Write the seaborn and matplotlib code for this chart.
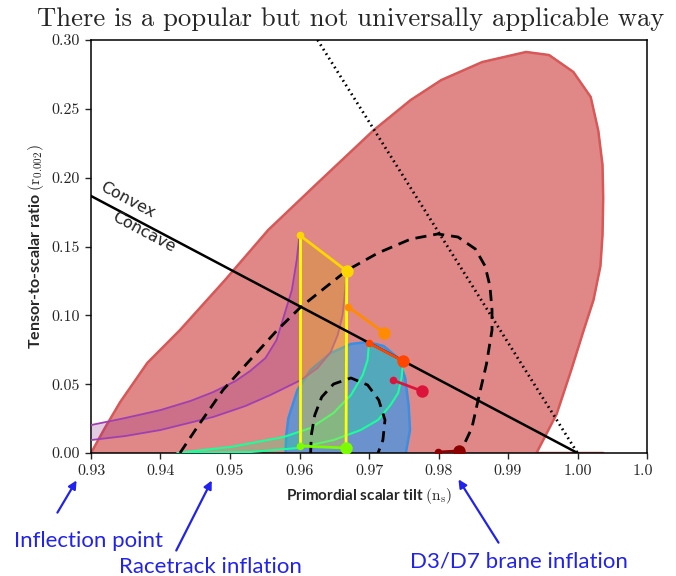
import numpy as np
import pandas as pd
import matplotlib
matplotlib.use("Agg")
import matplotlib.pyplot as plt
from matplotlib.patches import Rectangle
import seaborn as sns

# ---- data ----
# big (red) likelihood contour
red_ns = [0.9300, 0.9320, 0.9342, 0.9381, 0.9428, 0.9493, 0.9555, 0.9626, 0.9707, 0.9760,
          0.9804, 0.9863, 0.9926, 0.9959, 0.9994, 1.0019, 1.0030, 1.0036, 1.0037, 1.0036,
          1.0033, 1.0023, 1.0009, 0.9991, 0.9970, 0.9941, 1.0037]
red_r = [0.0000, 0.0182, 0.0370, 0.0654, 0.0893, 0.1257, 0.1620, 0.1961, 0.2346, 0.2564,
         0.2709, 0.2840, 0.2913, 0.2891, 0.2768, 0.2586, 0.2339, 0.2092, 0.1852, 0.1584,
         0.1358, 0.1111, 0.0893, 0.0603, 0.0283, 0.0000, 0.0000]

# blue contour
blue_ns = [0.9580, 0.9581, 0.9584, 0.9597, 0.9616, 0.9645, 0.9674, 0.9698, 0.9721, 0.9742,
           0.9752, 0.9757, 0.9759, 0.9753]
blue_r = [0.0000, 0.0131, 0.0254, 0.0458, 0.0603, 0.0726, 0.0792, 0.0806, 0.0777, 0.0690,
          0.0545, 0.0349, 0.0167, 0.0000]

# dashed contours
dash_big_ns = [0.9428, 0.9453, 0.9490, 0.9525, 0.9568, 0.9602, 0.9638, 0.9669, 0.9713, 0.9760,
               0.9799, 0.9828, 0.9853, 0.9867, 0.9874, 0.9877, 0.9877, 0.9869, 0.9858, 0.9848, 0.9831]
dash_big_r = [0.0000, 0.0189, 0.0458, 0.0654, 0.0893, 0.1061, 0.1206, 0.1329, 0.1453, 0.1554,
              0.1591, 0.1569, 0.1482, 0.1358, 0.1213, 0.1039, 0.0893, 0.0646, 0.0407, 0.0182, 0.0000]
dash_small_ns = [0.9616, 0.9617, 0.9622, 0.9632, 0.9649, 0.9674, 0.9698, 0.9714, 0.9723, 0.9720, 0.9713]
dash_small_r = [0.0000, 0.0131, 0.0276, 0.0407, 0.0501, 0.0545, 0.0494, 0.0385, 0.0240, 0.0094, 0.0000]

# natural inflation band (N=50 upper edge, N=60 lower edge)
nat50_ns = [0.9300, 0.9349, 0.9400, 0.9443, 0.9476, 0.9508, 0.9529, 0.9551, 0.9567, 0.9578,
            0.9589, 0.9596, 0.9600]
nat50_r = [0.0203, 0.0254, 0.0312, 0.0378, 0.0443, 0.0523, 0.0596, 0.0690, 0.0821, 0.1002,
           0.1184, 0.1402, 0.1583]
nat60_ns = [0.9300, 0.9349, 0.9400, 0.9476, 0.9522, 0.9558, 0.9602, 0.9626, 0.9645, 0.9655,
            0.9662, 0.9665, 0.9668]
nat60_r = [0.0094, 0.0123, 0.0167, 0.0262, 0.0341, 0.0421, 0.0530, 0.0617, 0.0734, 0.0857,
           0.1002, 0.1148, 0.1322]

# hilltop band
hill50_ns = [0.9424, 0.9501, 0.9577, 0.9616, 0.9649, 0.9674, 0.9691, 0.9698, 0.9700]
hill50_r = [0.0000, 0.0044, 0.0116, 0.0182, 0.0291, 0.0421, 0.0567, 0.0676, 0.0799]
hill60_ns = [0.9428, 0.9529, 0.9597, 0.9649, 0.9688, 0.9713, 0.9731, 0.9742, 0.9747, 0.9749]
hill60_r = [0.0000, 0.0007, 0.0036, 0.0094, 0.0167, 0.0240, 0.0349, 0.0436, 0.0552, 0.0668]

# N=50 (small dot) -> N=60 (big dot) model segments
seg_ns50 = [0.9600, 0.9670, 0.9700, 0.9734, 0.9600, 0.9799]
seg_r50 = [0.1583, 0.1061, 0.0799, 0.0530, 0.0051, 0.0007]
seg_ns60 = [0.9668, 0.9722, 0.9749, 0.9776, 0.9667, 0.9830]
seg_r60 = [0.1322, 0.0872, 0.0668, 0.0450, 0.0036, 0.0015]
seg_colors = ["#ffd700", "#ff8c00", "#ff4500", "#dc143c", "#7cfc00", "#8b0000"]

# straight guide lines
convex_ns = [0.93, 1.00]
convex_r = [0.1867, 0.0]
dotted_ns = [0.9626, 1.00]
dotted_r = [0.30, 0.0]

xticks = [0.93, 0.94, 0.95, 0.96, 0.97, 0.98, 0.99, 1.00, 1.01]
xtick_labels = ["0.93", "0.94", "0.95", "0.96", "0.97", "0.98", "0.99", "1.00", "1.01"]
yticks = [0.00, 0.05, 0.10, 0.15, 0.20, 0.25, 0.30]
ytick_labels = ["0.00", "0.05", "0.10", "0.15", "0.20", "0.25", "0.30"]

title = "There is a popular but not universally applicable way"
notes = ["Inflection point", "Racetrack inflation", "D3/D7 brane inflation"]

# ---- plot ----
sns.set_style("ticks")
plt.rcParams['mathtext.fontset'] = 'cm'

fig = plt.figure(figsize=(6.76, 5.76), dpi=100)
ax = fig.add_axes([91 / 676, 123 / 576, 556 / 676, 413 / 576])


def curve(xs, ys, **kw):
    sns.lineplot(x=xs, y=ys, sort=False, estimator=None, ax=ax, **kw)


# filled regions
ax.fill(red_ns, red_r, color="#e08888", zorder=1)
curve(red_ns, red_r, color="#d85858", lw=1.8, zorder=1.1)

ax.fill(blue_ns, blue_r, color="#6b92cc", zorder=2)
curve(blue_ns, blue_r, color="#3b8fe3", lw=1.8, zorder=2.1)

nat_x = nat50_ns + nat60_ns[::-1]
nat_y = nat50_r + nat60_r[::-1]
ax.fill(nat_x, nat_y, color="#8a1f8a", alpha=0.23, lw=0, zorder=3)
curve(nat50_ns, nat50_r, color="#a040b0", lw=1.3, zorder=3.1)
curve(nat60_ns, nat60_r, color="#a040b0", lw=1.3, zorder=3.1)

hill_x = hill50_ns + hill60_ns[::-1]
hill_y = hill50_r + hill60_r[::-1]
ax.fill(hill_x, hill_y, color="#00ff80", alpha=0.22, lw=0, zorder=3)
curve(hill50_ns, hill50_r, color="#1aff99", lw=1.5, zorder=3.1)
curve(hill60_ns, hill60_r, color="#1aff99", lw=1.5, zorder=3.1)

# alpha-attractor strip between the phi^2 and R^2 points
att_x = [seg_ns50[0], seg_ns60[0], seg_ns60[4], seg_ns50[4]]
att_y = [seg_r50[0], seg_r60[0], seg_r60[4], seg_r50[4]]
ax.fill(att_x, att_y, color="#ffd700", alpha=0.3, lw=0, zorder=4)
curve([seg_ns50[0], seg_ns50[4]], [seg_r50[0], seg_r50[4]], color="#ffff00", lw=2, zorder=4.1)
curve([seg_ns60[0], seg_ns60[4]], [seg_r60[0], seg_r60[4]], color="#ffff00", lw=2, zorder=4.1)

# dashed / dotted / solid guides
curve(dash_big_ns, dash_big_r, color="black", lw=2, linestyle=(0, (4, 2.5)), zorder=5)
curve(dash_small_ns, dash_small_r, color="black", lw=2, linestyle=(0, (4, 2.5)), zorder=5)
curve(dotted_ns, dotted_r, color="black", lw=2, linestyle=(0, (0.6, 1.3)), zorder=5)
curve(convex_ns, convex_r, color="black", lw=1.8, zorder=5)

# N=50 -> N=60 segments
for i, c in enumerate(seg_colors):
    curve([seg_ns50[i], seg_ns60[i]], [seg_r50[i], seg_r60[i]], color=c, lw=2, zorder=6)
    sns.scatterplot(x=[seg_ns50[i]], y=[seg_r50[i]], color=c, s=30, linewidth=0, ax=ax, zorder=7)
    sns.scatterplot(x=[seg_ns60[i]], y=[seg_r60[i]], color=c, s=80, linewidth=0, ax=ax, zorder=7)

ax.text(0.9353, 0.1838, "Convex", rotation=-28, rotation_mode="anchor",
        ha="center", va="center", fontsize=11.5, color="#222222", zorder=8)
ax.text(0.9376, 0.1605, "Concave", rotation=-28, rotation_mode="anchor",
        ha="center", va="center", fontsize=11.5, color="#222222", zorder=8)

# axes styling
ax.set_xlim(0.93, 1.01)
ax.set_ylim(0.0, 0.30)
ax.set_xticks(xticks)
ax.set_xticklabels(xtick_labels, fontfamily="cmr10", fontsize=11.5)
ax.set_yticks(yticks)
ax.set_yticklabels(ytick_labels, fontfamily="cmr10", fontsize=11.5)
ax.tick_params(direction="out", length=4, width=1, top=False, right=False, pad=4)
for sp in ax.spines.values():
    sp.set_visible(True)
    sp.set_color("black")
    sp.set_linewidth(1.1)

ax.set_xlabel(r"Primordial scalar tilt $(\mathrm{n_s})$", fontfamily="Lato",
              fontweight="bold", fontsize=11, labelpad=6)
ax.set_ylabel(r"Tensor-to-scalar ratio $(\mathrm{r_{0.002}})$", fontfamily="Lato",
              fontweight="bold", fontsize=11.5, labelpad=4)

fig.text(351 / 676, 1 - 19 / 576, title, ha="center", va="center",
         fontfamily="cmr10", fontsize=19.2)

# the source figure was cropped just after the last tick label
fig.add_artist(Rectangle((652 / 676, 0), 24 / 676, 120 / 576, transform=fig.transFigure,
                         facecolor="white", edgecolor="none", zorder=20))

# slide annotations with arrows
blue = "#2222ee"
note_pos = [(88, 35), (210, 9), (519, 15)]
arrow_from = [(56, 61), (175, 23), (500, 31)]
arrow_to = [(78, 98), (213, 98), (457, 99)]
for txt, (tx, ty), a0, a1 in zip(notes, note_pos, arrow_from, arrow_to):
    fig.text(tx / 676, ty / 576, txt, ha="center", va="center", fontfamily="Lato",
             fontsize=16, color=blue, zorder=21)
    ax.annotate("", xy=a1, xytext=a0, xycoords="figure pixels", textcoords="figure pixels",
                arrowprops=dict(arrowstyle="-|>", color=blue, lw=1.6, mutation_scale=12),
                annotation_clip=False, zorder=21)

fig.savefig("out.png", dpi=100)
